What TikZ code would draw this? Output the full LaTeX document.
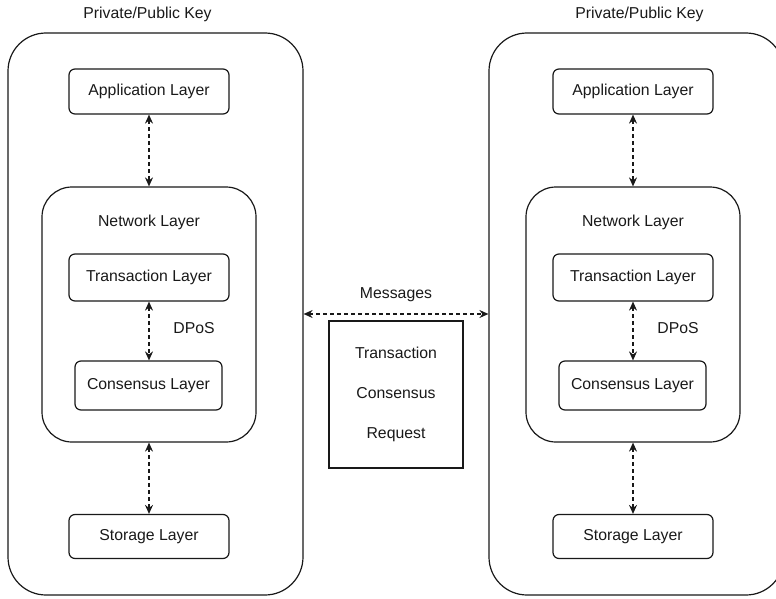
\documentclass[tikz,border=0pt]{standalone}
\usepackage{fontspec}
\setmainfont{Liberation Sans}
\usetikzlibrary{arrows.meta}
\definecolor{ink}{RGB}{25,25,25}
\begin{document}
\begin{tikzpicture}[x=1pt,y=-1pt,
  every node/.style={text=ink,font=\fontsize{15.8}{18}\selectfont},
  frame/.style={draw=ink,line width=1.2pt,rounded corners=38pt,inner sep=0pt},
  group/.style={draw=ink,line width=1.2pt,rounded corners=30pt,inner sep=0pt},
  layer/.style={draw=ink,line width=1.2pt,rounded corners=6pt,inner sep=0pt},
  plain/.style={inner sep=0pt},
  link/.style={draw=ink,line width=1.3pt,dash pattern=on 4pt off 3pt,
    {Stealth[length=9pt,width=8pt,inset=3pt]}-{Stealth[length=9pt,width=8pt,inset=3pt]}}
]
\useasboundingbox (0,0) rectangle (776,599);
\clip (0,0) rectangle (776,599);

% ---------- left node ----------
\node[frame,minimum width=295pt,minimum height=562pt] (outer1) at (155.5,314) {};
\node[plain] (title1) at (147.5,14) {Private/Public Key};
\node[layer,minimum width=160pt,minimum height=45pt] (app1) at (149,91.5) {Application Layer};
\node[group,minimum width=214pt,minimum height=255pt] (net1) at (149,314.5) {};
\node[plain] (netlbl1) at (149,222) {Network Layer};
\node[layer,minimum width=160pt,minimum height=47pt] (tx1) at (149,277.5) {Transaction Layer};
\node[layer,minimum width=147pt,minimum height=49pt] (cons1) at (148.5,385.5) {Consensus Layer};
\node[plain] (dpos1) at (194,328) {DPoS};
\node[layer,minimum width=160pt,minimum height=44pt] (sto1) at (149,536.5) {Storage Layer};

\draw[link] (app1.south) -- (net1.north);
\draw[link] (tx1.south) -- (tx1.south |- cons1.north);
\draw[link] (net1.south) -- (sto1.north);

% ---------- right node ----------
\node[frame,minimum width=295pt,minimum height=562pt] (outer2) at (636.5,314) {};
\node[plain] (title2) at (639.5,14) {Private/Public Key};
\node[layer,minimum width=160pt,minimum height=45pt] (app2) at (633,91.5) {Application Layer};
\node[group,minimum width=214pt,minimum height=255pt] (net2) at (633,314.5) {};
\node[plain] (netlbl2) at (633,222) {Network Layer};
\node[layer,minimum width=160pt,minimum height=47pt] (tx2) at (633,277.5) {Transaction Layer};
\node[layer,minimum width=147pt,minimum height=49pt] (cons2) at (632.5,385.5) {Consensus Layer};
\node[plain] (dpos2) at (678,328) {DPoS};
\node[layer,minimum width=160pt,minimum height=44pt] (sto2) at (633,536.5) {Storage Layer};

\draw[link] (app2.south) -- (net2.north);
\draw[link] (tx2.south) -- (tx2.south |- cons2.north);
\draw[link] (net2.south) -- (sto2.north);

% ---------- messages between the nodes ----------
\draw[link] (outer1.east) -- (outer2.west);
\node[plain] (msg) at (396,295) {Messages};
\node[draw=ink,line width=1.1pt,minimum width=134pt,minimum height=147pt,inner sep=0pt,
  align=center,font=\fontsize{15.8}{40}\selectfont] (kinds) at (396,394.5)
  {Transaction\\Consensus\\Request};
\end{tikzpicture}
\end{document}
